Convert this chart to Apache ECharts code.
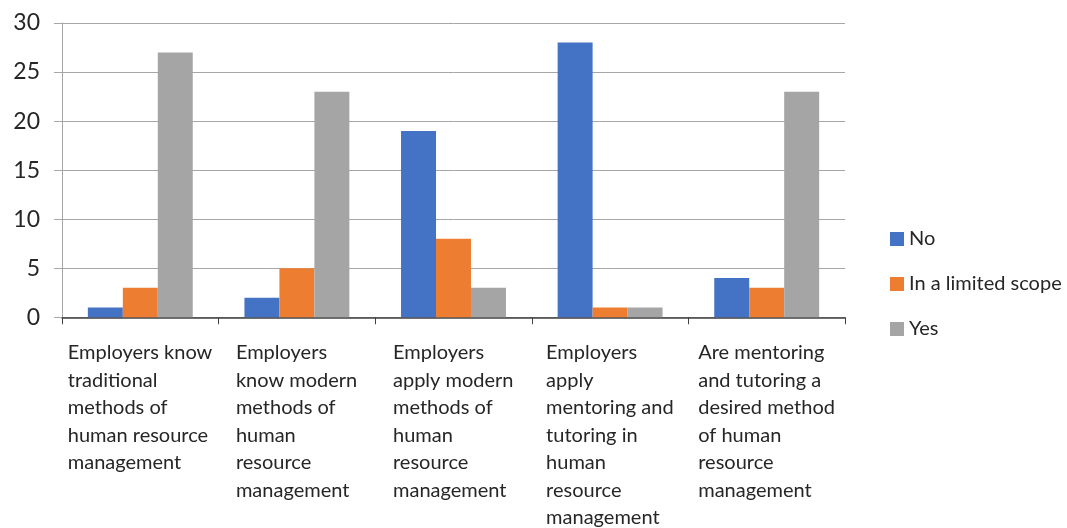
<!DOCTYPE html>
<html>
<head>
<meta charset="utf-8">
<script src="https://cdn.jsdelivr.net/npm/echarts@6/dist/echarts.min.js"></script>
<style>
  html, body { margin: 0; padding: 0; background: #fff; }
  #chart { width: 1067px; height: 528px; }
</style>
</head>
<body>
<div id="chart"></div>
<script>
// categories (line breaks as in the original)
const categories = [
  'Employers know\ntraditional\nmethods of\nhuman resource\nmanagement',
  'Employers\nknow modern\nmethods of\nhuman\nresource\nmanagement',
  'Employers\napply modern\nmethods of\nhuman\nresource\nmanagement',
  'Employers\napply\nmentoring and\ntutoring in\nhuman\nresource\nmanagement',
  'Are mentoring\nand tutoring a\ndesired method\nof human\nresource\nmanagement'
];
const seriesNames = ['No', 'In a limited scope', 'Yes'];
const noValues = [1, 2, 19, 28, 4];
const limitedValues = [3, 5, 8, 1, 3];
const yesValues = [27, 23, 3, 1, 23];
const colors = ['#4472C4', '#ED7D31', '#A5A5A5'];

const fontFamily = 'Lato, "Open Sans", sans-serif';
const labelSize = 20;

// each label block is centred under its category, lines left-aligned inside it
const ctx = document.createElement('canvas').getContext('2d');
ctx.font = labelSize + 'px ' + fontFamily;
const rich = {};
categories.forEach(function (c, i) {
  let w = 0;
  c.split('\n').forEach(function (l) { w = Math.max(w, ctx.measureText(l).width); });
  rich['c' + i] = {
    width: Math.ceil(w),
    align: 'left',
    fontSize: labelSize,
    lineHeight: 27.5,
    color: '#262626',
    fontFamily: fontFamily
  };
});

const myChart = echarts.init(document.getElementById('chart'));

const option = {
  animation: false,
  color: colors,
  textStyle: { fontFamily: fontFamily },
  grid: {
    left: 62,
    right: 222,
    top: 23,
    bottom: 210
  },
  legend: {
    orient: 'vertical',
    left: 885,
    top: 224,
    itemWidth: 14,
    itemHeight: 14,
    itemGap: 25,
    icon: 'rect',
    textStyle: { fontSize: 20, color: '#262626', fontFamily: fontFamily },
    data: seriesNames
  },
  xAxis: {
    type: 'category',
    data: categories,
    axisLine: { lineStyle: { color: '#404040', width: 1.5 } },
    axisTick: { show: true, alignWithLabel: false, length: 7, lineStyle: { color: '#404040' } },
    axisLabel: {
      interval: 0,
      margin: 22,
      formatter: function (v, idx) {
        return v.split('\n').map(function (l) { return '{c' + idx + '|' + l + '}'; }).join('\n');
      },
      rich: rich
    }
  },
  yAxis: {
    type: 'value',
    min: 0,
    max: 30,
    interval: 5,
    axisLine: { show: true, lineStyle: { color: '#a6a6a6' } },
    axisTick: { show: true, length: 8, lineStyle: { color: '#a6a6a6' } },
    splitLine: { lineStyle: { color: '#a6a6a6' } },
    axisLabel: { fontSize: 23, color: '#262626', margin: 22, fontFamily: fontFamily }
  },
  series: [
    { name: seriesNames[0], type: 'bar', data: noValues, barGap: 0, barCategoryGap: '33%' },
    { name: seriesNames[1], type: 'bar', data: limitedValues, barGap: 0, barCategoryGap: '33%' },
    { name: seriesNames[2], type: 'bar', data: yesValues, barGap: 0, barCategoryGap: '33%' }
  ]
};

myChart.setOption(option);
</script>
</body>
</html>
